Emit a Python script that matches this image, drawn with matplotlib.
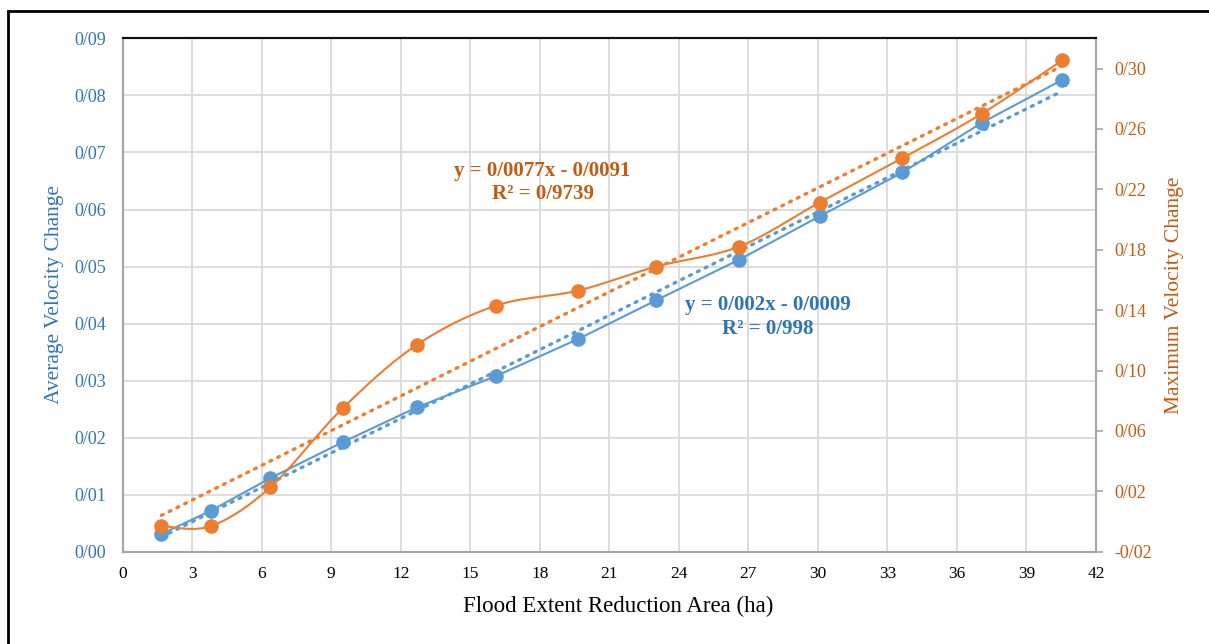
import numpy as np
import matplotlib
matplotlib.use("Agg")
import matplotlib.pyplot as plt
from matplotlib.patches import Rectangle
from matplotlib.ticker import FixedLocator, FuncFormatter

# ---- data ----
area = [1.67, 3.81, 6.37, 9.49, 12.69, 16.11, 19.66, 23.03, 26.60, 30.07, 33.65, 37.07, 40.53]
avg_vel = [0.0031, 0.0072, 0.0129, 0.0192, 0.0253, 0.0308, 0.0373, 0.0441, 0.0512, 0.0588, 0.0665, 0.0752, 0.0827]
max_vel = [-0.0030, -0.0030, 0.0227, 0.0750, 0.1170, 0.1430, 0.1530, 0.1689, 0.1821, 0.2113, 0.2407, 0.2701, 0.3054]
x_ticks = list(range(0, 43, 3))
left_ticks = [0.00, 0.01, 0.02, 0.03, 0.04, 0.05, 0.06, 0.07, 0.08, 0.09]
right_ticks = [-0.02, 0.02, 0.06, 0.10, 0.14, 0.18, 0.22, 0.26, 0.30]
eq_avg = ["y = 0/002x - 0/0009", "R² = 0/998"]
eq_max = ["y = 0/0077x - 0/0091", "R² = 0/9739"]

BLUE = "#5B9BD5"
ORANGE = "#ED7D31"
BLUE_TXT = "#2E75B6"
ORANGE_TXT = "#C55A11"
SERIF = ["Liberation Serif", "DejaVu Serif"]

plt.rcParams["font.family"] = SERIF

W, H = 1209, 644
fig = plt.figure(figsize=(W / 100, H / 100), dpi=100)
L, R, T, B = 122.7, 1096.0, 38.4, 551.7
ax = fig.add_axes([L / W, 1 - B / H, (R - L) / W, (B - T) / H])
ax2 = ax.twinx()

x = np.array(area)
ya = np.array(avg_vel)
ym = np.array(max_vel)

def fmt(v, _):
    s = f"{abs(v):.2f}".replace(".", "/")
    return ("-" if v < -1e-9 else "") + s

ax.set_xlim(0, 42)
ax.set_ylim(0, 0.09)
ax2.set_ylim(-0.02, 0.32)
ax.xaxis.set_major_locator(FixedLocator(x_ticks))
ax.yaxis.set_major_locator(FixedLocator(left_ticks))
ax2.yaxis.set_major_locator(FixedLocator(right_ticks))
ax.yaxis.set_major_formatter(FuncFormatter(fmt))
ax2.yaxis.set_major_formatter(FuncFormatter(fmt))
ax.grid(True, color="#D9D9D9", lw=1.3)
ax.set_axisbelow(True)

for a in (ax, ax2):
    a.spines["top"].set_color("#111111")
    a.spines["top"].set_linewidth(1.5)
    for s in ("left", "right", "bottom"):
        a.spines[s].set_color("#A6A6A6")
        a.spines[s].set_linewidth(1.5)

ax.tick_params(axis="x", length=0, pad=10, labelsize=12.5, labelcolor="black")
ax.tick_params(axis="y", length=0, pad=12, labelsize=13, labelcolor=BLUE_TXT)
ax2.tick_params(axis="y", length=5, width=1.2, color="#A6A6A6", pad=8,
                labelsize=13, labelcolor=ORANGE_TXT)

# trendlines (least squares over the data)
pa = np.polyfit(x, ya, 1)
pm = np.polyfit(x, ym, 1)
xt = np.array([x.min(), x.max()])
ax.plot(xt, np.polyval(pa, xt), ls=(0, (0.6, 2.0)), lw=2.4, color=BLUE,
        dash_capstyle="round", zorder=3)
ax2.plot(xt, np.polyval(pm, xt), ls=(0, (0.6, 2.0)), lw=2.4, color=ORANGE,
         dash_capstyle="round", zorder=3)

# blue straight-line series
ax.plot(x, ya, "-", color=BLUE, lw=1.5, marker="o", ms=9.5, zorder=4)

# orange smoothed series (Bezier / Catmull-Rom like Excel)
def smooth(px, py, n=40):
    P = np.column_stack([px, py])
    Pext = np.vstack([P[0], P, P[-1]])
    out = []
    for i in range(len(P) - 1):
        p0, p1, p2, p3 = Pext[i], Pext[i + 1], Pext[i + 2], Pext[i + 3]
        b1 = p1 + (p2 - p0) / 6.0
        b2 = p2 - (p3 - p1) / 6.0
        t = np.linspace(0, 1, n)[:, None]
        seg = ((1 - t) ** 3) * p1 + 3 * ((1 - t) ** 2) * t * b1 + 3 * (1 - t) * t ** 2 * b2 + t ** 3 * p2
        out.append(seg if i == 0 else seg[1:])
    s = np.vstack(out)
    return s[:, 0], s[:, 1]

sx, sy = smooth(x, ym)
ax2.plot(sx, sy, "-", color=ORANGE, lw=1.5, zorder=4)
ax2.plot(x, ym, "o", color=ORANGE, ms=9.5, zorder=5)

def fx(px):
    return px / W
def fy(py):
    return 1 - py / H

# equation labels
fig.text(fx(542.5), fy(171), eq_max[0], ha="center", va="center", fontsize=15,
         fontweight="bold", color=ORANGE_TXT)
fig.text(fx(542.5), fy(194), eq_max[1], ha="center", va="center", fontsize=15,
         fontweight="bold", color=ORANGE_TXT)
fig.text(fx(768), fy(305), eq_avg[0], ha="center", va="center", fontsize=15,
         fontweight="bold", color=BLUE_TXT)
fig.text(fx(768), fy(329), eq_avg[1], ha="center", va="center", fontsize=15,
         fontweight="bold", color=BLUE_TXT)

# axis labels
fig.text(fx(55), fy(295), "Average Velocity Change", rotation=90, ha="center",
         va="center", fontsize=15.5, color=BLUE_TXT)
fig.text(fx(1175), fy(295), "Maximum Velocity Change", rotation=90, ha="center",
         va="center", fontsize=15.5, color=ORANGE_TXT)
fig.text(fx(618), fy(606), "Flood Extent Reduction Area (ha)", ha="center",
         va="center", fontsize=16.5, color="black")

# outer frame (top and left edges visible)
fig.patches.append(Rectangle((fx(7.5), fy(700)), (1300 - 7.5) / W, (700 - 10.5) / H,
                             transform=fig.transFigure, fill=False,
                             edgecolor="black", lw=2))

fig.savefig("out.png", dpi=100)
